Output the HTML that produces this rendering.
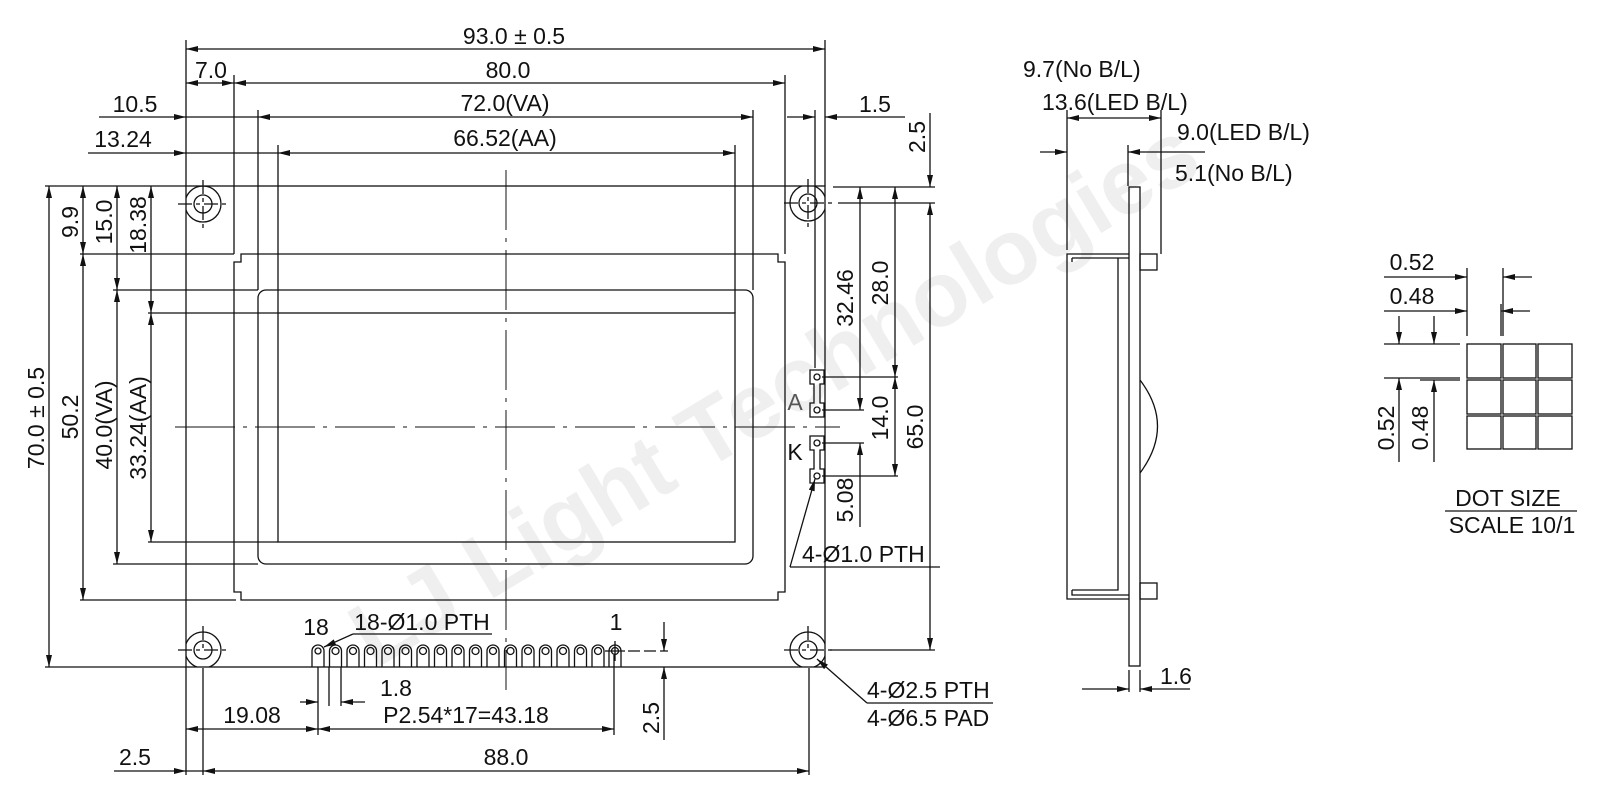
<!DOCTYPE html>
<html><head><meta charset="utf-8"><style>
html,body{margin:0;padding:0;background:#fff;}
svg{display:block;}
text{font-family:"Liberation Sans",Arial,sans-serif;font-size:23px;fill:#111;}
</style></head><body>
<svg width="1600" height="800" viewBox="0 0 1600 800" xmlns="http://www.w3.org/2000/svg">
<defs>
<marker id="a" viewBox="0 0 12 6" refX="12" refY="3" markerWidth="12" markerHeight="6" markerUnits="userSpaceOnUse" orient="auto-start-reverse"><path d="M0,0 L12,3 L0,6 z" fill="#111"/></marker>
<clipPath id="brd"><rect x="186" y="186" width="639" height="481"/></clipPath>
</defs>

<!-- watermark -->
<text x="0" y="0" transform="translate(790,420) rotate(-31)" text-anchor="middle" style="font-size:92px;font-weight:bold;fill:#efefef">LJ Light Technologies</text>

<g stroke="#111" stroke-width="1.3" fill="none">
<rect x="186" y="186" width="639" height="481"/>
<path d="M241,254 H778 V262 H785 V592 H778 V600 H241 V592 H234 V262 H241 Z"/>
<rect x="258" y="290" width="495" height="274" rx="8"/>
<rect x="278" y="313" width="457" height="229"/>
<path d="M506,170 V690" stroke-dasharray="60,8,4,8" stroke-width="1"/>
<path d="M175,427 H840" stroke-dasharray="60,8,4,8" stroke-width="1"/>

<g clip-path="url(#brd)">
<circle cx="203" cy="204" r="18"/><circle cx="808" cy="203" r="18"/>
<circle cx="203" cy="650" r="18"/><circle cx="808" cy="650" r="18"/>
</g>
<circle cx="203" cy="204" r="9"/><circle cx="808" cy="203" r="9"/>
<circle cx="203" cy="650" r="9"/><circle cx="808" cy="650" r="9"/>
<path d="M178,204 H226 M203,180 V228 M784,203 H832 M808,179 V227 M178,650 H226 M784,650 H832 M808,626 V650 M203,626 V650" stroke-dasharray="14,4,4,4"/>

<path d="M186,40 V186 M186,667 V775 M825,40 V186 M234,75 V254 M785,75 V254 M258,110 V290 M753,110 V290 M278,145 V313 M735,145 V313"/>
<path d="M186,49 H825" marker-start="url(#a)" marker-end="url(#a)"/>
<path d="M186,83 H234" marker-start="url(#a)" marker-end="url(#a)"/>
<path d="M234,83 H785" marker-start="url(#a)" marker-end="url(#a)"/>
<path d="M99,117 H186" marker-end="url(#a)"/>
<path d="M186,117 H258"/>
<path d="M258,117 H753" marker-start="url(#a)" marker-end="url(#a)"/>
<path d="M88,153 H186" marker-end="url(#a)"/>
<path d="M186,153 H278"/>
<path d="M278,153 H735" marker-start="url(#a)" marker-end="url(#a)"/>
<path d="M787,117 H815" marker-end="url(#a)"/>
<path d="M905,117 H825" marker-end="url(#a)"/>
<path d="M815,110 V368"/>

<path d="M45,186 H186 M80,254 H234 M113,290 H258 M148,313 H278 M148,542 H278 M113,564 H258 M80,600 H236 M45,667 H186"/>
<path d="M49,186 V667" marker-start="url(#a)" marker-end="url(#a)"/>
<path d="M83,186 V254" marker-start="url(#a)" marker-end="url(#a)"/>
<path d="M83,254 V600" marker-start="url(#a)" marker-end="url(#a)"/>
<path d="M117,186 V290" marker-start="url(#a)" marker-end="url(#a)"/>
<path d="M117,290 V564" marker-start="url(#a)" marker-end="url(#a)"/>
<path d="M151,186 V313" marker-start="url(#a)" marker-end="url(#a)"/>
<path d="M151,313 V542" marker-start="url(#a)" marker-end="url(#a)"/>

<path d="M833,187 H935 M838,203 H935 M830,650 H935 M822,377 H898 M822,410 H864 M822,443 H864 M822,476 H898"/>
<path d="M930,113 V187" marker-end="url(#a)"/>
<path d="M930,203 V650" marker-start="url(#a)" marker-end="url(#a)"/>
<path d="M860,187 V410" marker-start="url(#a)" marker-end="url(#a)"/>
<path d="M860,527 V443" marker-end="url(#a)"/>
<path d="M895,187 V377" marker-start="url(#a)" marker-end="url(#a)"/>
<path d="M895,377 V476" marker-start="url(#a)" marker-end="url(#a)"/>
<path d="M810,370 H824 V384 H820 V403 H824 V417 H810 V403 H814 V384 H810 Z"/>
<path d="M810,436 H824 V450 H820 V469 H824 V483 H810 V469 H814 V450 H810 Z"/>
<circle cx="817" cy="377" r="3"/><circle cx="817" cy="410" r="3"/>
<circle cx="817" cy="443" r="3"/><circle cx="817" cy="476" r="3"/>
<path d="M790,567 L815,479" marker-end="url(#a)"/>
<path d="M790,567 H940"/>
<path d="M867,703 L817,659" marker-end="url(#a)"/>
<path d="M867,703 H993"/>

<g>
<path d="M312,667 V651 A6,6 0 0 1 324,651 V667 M329.5,667 V651 A6,6 0 0 1 341.5,651 V667 M347,667 V651 A6,6 0 0 1 359,651 V667 M364.5,667 V651 A6,6 0 0 1 376.5,651 V667 M382,667 V651 A6,6 0 0 1 394,651 V667 M399.5,667 V651 A6,6 0 0 1 411.5,651 V667 M417,667 V651 A6,6 0 0 1 429,651 V667 M434.5,667 V651 A6,6 0 0 1 446.5,651 V667 M452,667 V651 A6,6 0 0 1 464,651 V667 M469.5,667 V651 A6,6 0 0 1 481.5,651 V667 M487,667 V651 A6,6 0 0 1 499,651 V667 M504.5,667 V651 A6,6 0 0 1 516.5,651 V667 M522,667 V651 A6,6 0 0 1 534,651 V667 M539.5,667 V651 A6,6 0 0 1 551.5,651 V667 M557,667 V651 A6,6 0 0 1 569,651 V667 M574.5,667 V651 A6,6 0 0 1 586.5,651 V667 M592,667 V651 A6,6 0 0 1 604,651 V667 M609,667 V651 A6,6 0 0 1 621,651 V667"/>
<circle cx="318" cy="651" r="3"/><circle cx="335.5" cy="651" r="3.5"/><circle cx="353" cy="651" r="3.5"/><circle cx="370.5" cy="651" r="3.5"/><circle cx="388" cy="651" r="3.5"/><circle cx="405.5" cy="651" r="3.5"/><circle cx="423" cy="651" r="3.5"/><circle cx="440.5" cy="651" r="3.5"/><circle cx="458" cy="651" r="3.5"/><circle cx="475.5" cy="651" r="3.5"/><circle cx="493" cy="651" r="3.5"/><circle cx="510.5" cy="651" r="3.5"/><circle cx="528" cy="651" r="3.5"/><circle cx="545.5" cy="651" r="3.5"/><circle cx="563" cy="651" r="3.5"/><circle cx="580.5" cy="651" r="3.5"/><circle cx="598" cy="651" r="3.5"/><circle cx="615" cy="651" r="3.5"/>
<path d="M605,651 H625 M615,641 V661"/>
<path d="M628,651 H668" stroke-dasharray="12,4"/>
</g>
<path d="M353,634 L324,647" marker-end="url(#a)"/>
<path d="M353,634 H492"/>
<path d="M318,667 V735 M329,667 V706 M341,667 V706 M614,655 V735 M203,668 V775 M809,668 V775"/>
<path d="M300,702 H318" marker-end="url(#a)"/>
<path d="M365,702 H341" marker-end="url(#a)"/>
<path d="M186,729 H318" marker-start="url(#a)" marker-end="url(#a)"/>
<path d="M318,729 H614" marker-start="url(#a)" marker-end="url(#a)"/>
<path d="M664,622 V651" marker-end="url(#a)"/>
<path d="M664,740 V667" marker-end="url(#a)"/>
<path d="M114,771 H186" marker-end="url(#a)"/>
<path d="M186,771 H203"/>
<path d="M203,771 H809" marker-start="url(#a)" marker-end="url(#a)"/>

<rect x="1129" y="187" width="11" height="479"/>
<path d="M1129,254 H1067 V599 H1129 M1129,258 H1072 M1118,258 V590 H1072 M1072,258 V262 M1072,590 V595 H1129"/>
<rect x="1140" y="254" width="17" height="16"/>
<rect x="1140" y="583" width="17" height="16"/>
<path d="M1140,380 Q1175,426 1140,473"/>
<path d="M1067,110 V250 M1161,110 V254 M1128,145 V186"/>
<path d="M1067,118 H1161" marker-start="url(#a)" marker-end="url(#a)"/>
<path d="M1040,152 H1067" marker-end="url(#a)"/>
<path d="M1205,152 H1128" marker-end="url(#a)"/>
<path d="M1129,670 V692 M1140,670 V692"/>
<path d="M1082,689 H1129" marker-end="url(#a)"/>
<path d="M1190,689 H1140" marker-end="url(#a)"/>

<rect x="1467" y="344" width="34" height="34"/><rect x="1503" y="344" width="33" height="34"/><rect x="1538" y="344" width="34" height="34"/>
<rect x="1467" y="380" width="34" height="34"/><rect x="1503" y="380" width="33" height="34"/><rect x="1538" y="380" width="34" height="34"/>
<rect x="1467" y="416" width="34" height="33"/><rect x="1503" y="416" width="33" height="33"/><rect x="1538" y="416" width="34" height="33"/>
<path d="M1467,268 V336 M1501,304 V336 M1503,268 V336 M1384,344 H1460 M1384,378 H1460 M1420,380 H1460"/>
<path d="M1384,277 H1467" marker-end="url(#a)"/>
<path d="M1532,277 H1503" marker-end="url(#a)"/>
<path d="M1384,311 H1467" marker-end="url(#a)"/>
<path d="M1530,311 H1501" marker-end="url(#a)"/>
<path d="M1399,316 V344" marker-end="url(#a)"/>
<path d="M1399,462 V378" marker-end="url(#a)"/>
<path d="M1434,316 V344" marker-end="url(#a)"/>
<path d="M1434,462 V380" marker-end="url(#a)"/>
<path d="M1445,511 H1577"/>
</g>

<text x="514" y="44" text-anchor="middle">93.0 ± 0.5</text>
<text x="211" y="78" text-anchor="middle">7.0</text>
<text x="508" y="78" text-anchor="middle">80.0</text>
<text x="135" y="112" text-anchor="middle">10.5</text>
<text x="505" y="111" text-anchor="middle">72.0(VA)</text>
<text x="875" y="112" text-anchor="middle">1.5</text>
<text x="123" y="147" text-anchor="middle">13.24</text>
<text x="505" y="146" text-anchor="middle">66.52(AA)</text>

<text transform="translate(44,418) rotate(-90)" text-anchor="middle">70.0 ± 0.5</text>
<text transform="translate(78,222) rotate(-90)" text-anchor="middle">9.9</text>
<text transform="translate(78,417) rotate(-90)" text-anchor="middle">50.2</text>
<text transform="translate(112,222) rotate(-90)" text-anchor="middle">15.0</text>
<text transform="translate(112,425) rotate(-90)" text-anchor="middle">40.0(VA)</text>
<text transform="translate(146,225) rotate(-90)" text-anchor="middle">18.38</text>
<text transform="translate(146,428) rotate(-90)" text-anchor="middle">33.24(AA)</text>

<text transform="translate(925,137) rotate(-90)" text-anchor="middle">2.5</text>
<text transform="translate(853,298) rotate(-90)" text-anchor="middle">32.46</text>
<text transform="translate(888,283) rotate(-90)" text-anchor="middle">28.0</text>
<text transform="translate(888,418) rotate(-90)" text-anchor="middle">14.0</text>
<text transform="translate(923,427) rotate(-90)" text-anchor="middle">65.0</text>
<text transform="translate(853,500) rotate(-90)" text-anchor="middle">5.08</text>
<text x="795" y="410" text-anchor="middle" style="fill:#555">A</text>
<text x="795" y="460" text-anchor="middle">K</text>
<text x="802" y="562">4-Ø1.0 PTH</text>
<text x="867" y="698">4-Ø2.5 PTH</text>
<text x="867" y="726">4-Ø6.5 PAD</text>

<text x="316" y="635" text-anchor="middle">18</text>
<text x="422" y="630" text-anchor="middle">18-Ø1.0 PTH</text>
<text x="616" y="630" text-anchor="middle">1</text>
<text x="396" y="696" text-anchor="middle">1.8</text>
<text x="252" y="723" text-anchor="middle">19.08</text>
<text x="466" y="723" text-anchor="middle">P2.54*17=43.18</text>
<text transform="translate(659,718) rotate(-90)" text-anchor="middle">2.5</text>
<text x="135" y="765" text-anchor="middle">2.5</text>
<text x="506" y="765" text-anchor="middle">88.0</text>

<text x="1023" y="77">9.7(No B/L)</text>
<text x="1042" y="110">13.6(LED B/L)</text>
<text x="1177" y="140">9.0(LED B/L)</text>
<text x="1175" y="181">5.1(No B/L)</text>
<text x="1160" y="684">1.6</text>

<text x="1412" y="270" text-anchor="middle">0.52</text>
<text x="1412" y="304" text-anchor="middle">0.48</text>
<text transform="translate(1394,428) rotate(-90)" text-anchor="middle">0.52</text>
<text transform="translate(1428,428) rotate(-90)" text-anchor="middle">0.48</text>
<text x="1508" y="506" text-anchor="middle">DOT SIZE</text>
<text x="1512" y="533" text-anchor="middle">SCALE 10/1</text>
</svg>
</body></html>
